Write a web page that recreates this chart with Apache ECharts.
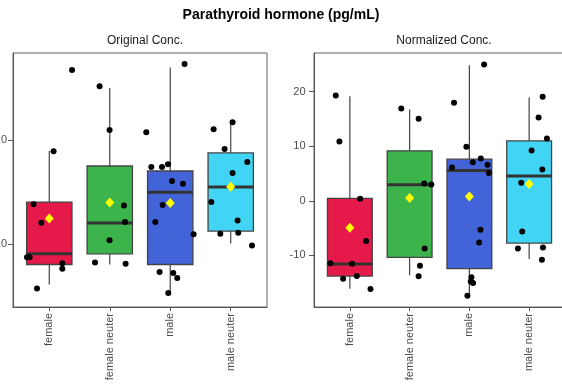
<!DOCTYPE html>
<html><head><meta charset="utf-8">
<script src="https://cdn.jsdelivr.net/npm/echarts@6/dist/echarts.min.js"></script>
<style>html,body{margin:0;padding:0;background:#fff}#c{width:562px;height:387px}</style>
</head><body><div id="c"></div>
<script>
const categories = ['female', 'female neuter', 'male', 'male neuter'];
const colors = ['#e6194B', '#3cb44b', '#4363d8', '#42d4f4'];

// [whiskerLow, Q1, median, Q3, whiskerHigh]
const origBoxes = [
  [6.12, 8.05, 9.07, 14.04, 18.94],
  [8.05, 9.07, 12.02, 17.5, 24.97],
  [5.26, 8.05, 14.97, 17.02, 26.95],
  [10.07, 11.25, 15.48, 18.75, 21.92]
];
const origMeans = [12.47, 14.0, 13.94, 15.51];
// jittered points [x position, value]
const origPoints = [
  [1.376, 26.7], [1.071, 18.91], [0.741, 13.82], [0.868, 12.05], [0.631, 8.75], [0.674, 8.75], [1.215, 8.17], [1.215, 7.63], [0.797, 5.74],
  [1.832, 25.16], [1.997, 20.96], [2.235, 13.72], [2.252, 12.12], [1.997, 10.38], [1.756, 8.24], [2.262, 8.11],
  [3.237, 27.28], [2.604, 20.74], [2.687, 17.4], [2.864, 17.4], [2.963, 17.66], [3.029, 16.06], [3.211, 15.8], [2.874, 13.75], [2.753, 12.12], [3.386, 10.96], [2.824, 7.34], [3.05, 7.24], [3.116, 6.76], [2.968, 5.32],
  [4.031, 21.7], [3.717, 21.03], [3.899, 19.13], [4.274, 17.88], [4.031, 16.83], [3.679, 14.04], [4.114, 12.28], [3.828, 11.0], [4.125, 11.09], [4.352, 9.87]
];

const normBoxes = [
  [-16.1, -13.78, -11.59, 0.43, 19.15],
  [-13.66, -10.37, 2.93, 9.15, 16.71],
  [-17.44, -12.44, 5.55, 7.62, 24.82],
  [-10.67, -7.74, 4.51, 10.98, 18.9]
];
const normMeans = [-4.94, 0.49, 0.79, 3.05];
const normPoints = [
  [0.764, 19.27], [0.825, 10.85], [1.172, 0.37], [1.272, -7.38], [0.674, -11.46], [1.038, -11.52], [0.887, -14.27], [1.116, -13.78], [1.345, -16.16],
  [1.86, 16.89], [2.151, 15.0], [2.246, 3.17], [2.363, 2.99], [2.251, -8.72], [2.173, -11.89], [2.151, -13.84],
  [3.247, 24.94], [2.743, 17.93], [2.95, 9.88], [3.191, 7.74], [3.057, 7.07], [3.303, 6.59], [2.71, 6.1], [3.325, 5.06], [3.185, -5.3], [3.163, -7.62], [3.034, -14.02], [3.023, -14.76], [3.062, -15.06], [2.967, -17.38],
  [4.226, 19.02], [4.158, 15.24], [4.298, 11.4], [4.041, 9.21], [4.22, 5.73], [3.868, 3.29], [3.884, -5.61], [3.812, -8.72], [4.231, -8.54], [4.214, -10.79]
];

const origTicks = [10, 20];
const normTicks = [-10, 0, 10, 20];

const FONT = 'Liberation Sans, Arial, sans-serif';
const chart = echarts.init(document.getElementById('c'), null, {renderer: 'canvas'});

function xAxisDef(gi) {
  return {
    type: 'value', gridIndex: gi, min: 0.4, max: 4.6,
    splitLine: {show: false},
    axisLine: {show: true, onZero: false, lineStyle: {color: '#555', width: 1}},
    axisTick: {show: true, length: 4, customValues: [1, 2, 3, 4], lineStyle: {color: '#555'}},
    axisLabel: {
      customValues: [1, 2, 3, 4], rotate: 90, margin: 6,
      color: '#4d4d4d', fontSize: 11, fontFamily: FONT,
      formatter: v => categories[Math.round(v) - 1]
    }
  };
}
function yAxisDef(gi, min, max, ticks, margin) {
  return {
    type: 'value', gridIndex: gi, min: min, max: max,
    splitLine: {show: false},
    axisLine: {show: true, onZero: false, lineStyle: {color: '#555', width: 1}},
    axisTick: {show: true, length: 5, customValues: ticks, lineStyle: {color: '#555'}},
    axisLabel: {customValues: ticks, margin: margin, color: '#4d4d4d', fontSize: 11, fontFamily: FONT}
  };
}

function boxSeries(gi, boxes) {
  return {
    type: 'custom', xAxisIndex: gi, yAxisIndex: gi, z: 2,
    data: boxes.map((b, i) => [i + 1].concat(b)),
    renderItem: function (params, api) {
      const x = api.value(0);
      const lo = api.coord([x, api.value(1)]);
      const q1 = api.coord([x, api.value(2)]);
      const med = api.coord([x, api.value(3)]);
      const q3 = api.coord([x, api.value(4)]);
      const hi = api.coord([x, api.value(5)]);
      const left = api.coord([x - 0.375, 0])[0];
      const right = api.coord([x + 0.375, 0])[0];
      const col = colors[params.dataIndex];
      const lineStyle = {stroke: '#444', lineWidth: 1.2};
      return {
        type: 'group',
        children: [
          {type: 'line', shape: {x1: lo[0], y1: lo[1], x2: q1[0], y2: q1[1]}, style: lineStyle},
          {type: 'line', shape: {x1: q3[0], y1: q3[1], x2: hi[0], y2: hi[1]}, style: lineStyle},
          {type: 'rect', shape: {x: left, y: q3[1], width: right - left, height: q1[1] - q3[1]},
            style: {fill: col, stroke: '#444', lineWidth: 1.3}},
          {type: 'line', shape: {x1: left, y1: med[1], x2: right, y2: med[1]}, style: {stroke: '#333', lineWidth: 3}}
        ]
      };
    }
  };
}
function pointSeries(gi, pts) {
  return {
    type: 'scatter', xAxisIndex: gi, yAxisIndex: gi, z: 3,
    data: pts, symbol: 'circle', symbolSize: 6,
    itemStyle: {color: '#000', opacity: 1}, silent: true
  };
}
function meanSeries(gi, means) {
  return {
    type: 'scatter', xAxisIndex: gi, yAxisIndex: gi, z: 4,
    data: means.map((m, i) => [i + 1, m]), symbol: 'diamond', symbolSize: [9, 10],
    itemStyle: {color: '#ffff00', opacity: 1}, silent: true
  };
}

chart.setOption({
  backgroundColor: '#fff',
  animation: false,
  title: [
    {text: 'Parathyroid hormone (pg/mL)', left: 276, top: 3, textAlign: 'center',
      textStyle: {fontSize: 14, fontWeight: 'bold', color: '#000', fontFamily: FONT}},
    {text: 'Original Conc.', left: 140, top: 30, textAlign: 'center',
      textStyle: {fontSize: 12, fontWeight: 'normal', color: '#1a1a1a', fontFamily: FONT}},
    {text: 'Normalized Conc.', left: 439, top: 30, textAlign: 'center',
      textStyle: {fontSize: 12, fontWeight: 'normal', color: '#1a1a1a', fontFamily: FONT}}
  ],
  grid: [
    {left: 13, top: 53, width: 254, height: 254, outerBoundsMode: 'none', containLabel: false,
      show: true, borderColor: '#666', borderWidth: 1, backgroundColor: '#fff'},
    {left: 314, top: 53, width: 251, height: 254, outerBoundsMode: 'none', containLabel: false,
      show: true, borderColor: '#666', borderWidth: 1, backgroundColor: '#fff'}
  ],
  xAxis: [xAxisDef(0), xAxisDef(1)],
  yAxis: [yAxisDef(0, 3.97, 28.34, origTicks, 6), yAxisDef(1, -19.45, 27.05, normTicks, 8.5)],
  series: [
    boxSeries(0, origBoxes), pointSeries(0, origPoints), meanSeries(0, origMeans),
    boxSeries(1, normBoxes), pointSeries(1, normPoints), meanSeries(1, normMeans)
  ]
});
</script></body></html>
